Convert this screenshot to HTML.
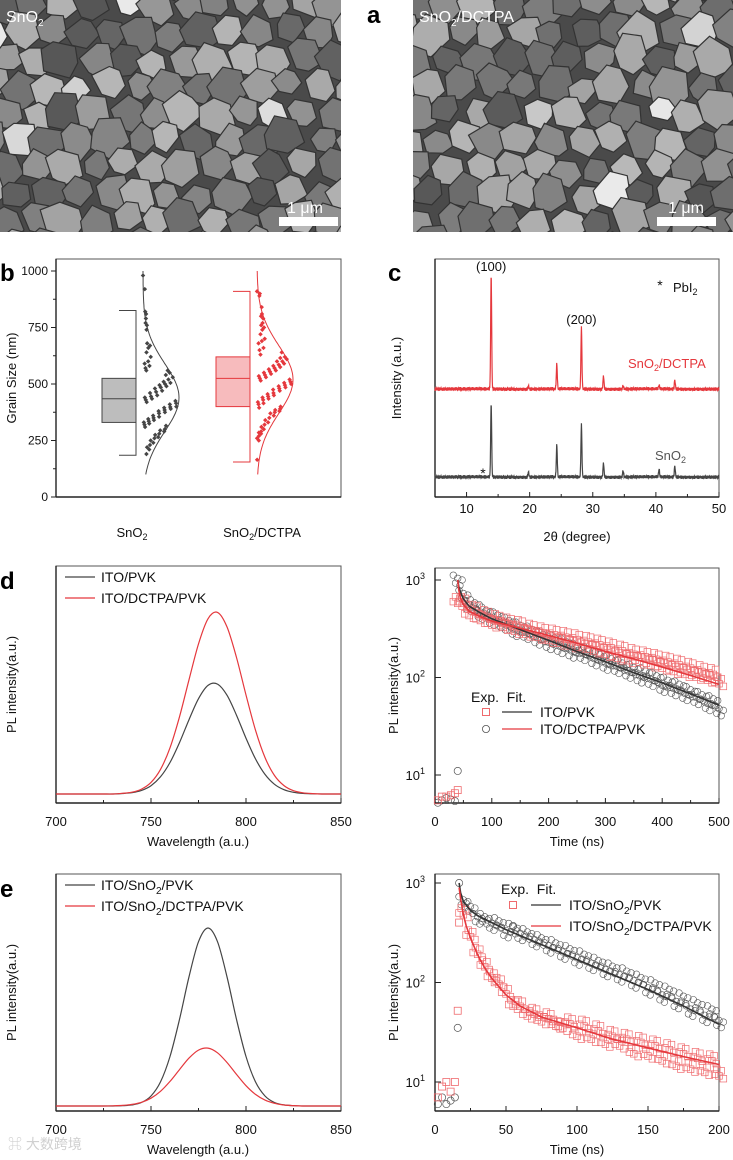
<!DOCTYPE html>
<html><head><meta charset="utf-8"><style>
html,body{margin:0;padding:0;background:#fff;}
svg{display:block;font-family:"Liberation Sans",Arial,sans-serif;}
</style></head><body>
<svg id="fig" width="733" height="1160" viewBox="0 0 733 1160" xmlns="http://www.w3.org/2000/svg">
<g id="semL"></g>
<g id="semR"></g>
<g id="plots"></g>
</svg>
<script>
// ---------- DATA ----------
// panel b
const bCategories = ["SnO2", "SnO2/DCTPA"];
const bQ1 = [330, 400];
const bMedian = [435, 525];
const bQ3 = [525, 620];
const bWhiskLo = [185, 155];
const bWhiskHi = [825, 910];
const bMean = [440, 520];
const bSd = [150, 150];
const bPointsSnO2 = [980,920,820,810,790,770,760,740,680,670,660,640,620,600,590,580,570,560,560,550,540,530,520,510,505,500,495,490,485,480,470,465,460,450,445,440,435,430,425,420,415,410,400,398,395,390,385,380,375,370,360,355,350,345,340,335,330,325,320,315,310,300,295,290,280,275,265,260,250,240,230,220,210,190];
const bPointsDCTPA = [910,900,890,840,810,800,790,770,760,750,740,720,700,690,680,660,650,640,630,620,615,610,600,600,590,585,580,575,570,565,560,555,550,545,540,535,530,525,520,515,510,505,500,495,490,485,480,475,470,460,455,450,445,440,435,430,420,415,410,400,395,390,385,380,375,370,360,350,340,330,320,310,300,290,285,280,270,260,250,165];
const bTicks = [0, 250, 500, 750, 1000];
// panel c (XRD)
const cPeakPos = [13.9, 19.8, 24.3, 28.2, 31.7, 34.8, 40.5, 43.0];
const cPeakRed = [115, 3, 25, 61, 13, 3, 4, 9];
const cPeakBlack = [74, 5, 32, 52, 14, 6, 8, 11];
const cOffsets = [108, 20];
const cTicks = [10, 20, 30, 40, 50];
// panel d left
const dWave = [700,705,710,715,720,725,730,735,740,745,750,755,760,765,770,775,780,785,790,795,800,805,810,815,820,825,830,835,840,845,850];
const dBlack = [0,0,0,0,0,0,0,0.5,1.4,3.6,8.3,17.2,31.5,51.4,74.3,95.3,108.6,109.9,98.8,78.8,55.8,35.1,19.6,9.7,4.3,1.7,0.6,0.2,0,0,0];
const dRed = [0,0,0,0,0,0,0,0.7,1.8,4.9,11.6,24.6,46.2,77.2,114.2,150.1,175.2,181.6,167.1,136.5,99.0,63.8,36.5,18.5,8.4,3.3,1.2,0.4,0,0,0];
const dxTicks = [700, 750, 800, 850];
// panel d right (TRPL)
const dFitT = [40,42,45,50,60,80,100,150,200,250,300,350,400,450,500];
const dFitBlack = [1000,850,750,640,540,460,400,310,240,185,145,112,88,68,52];
const dFitRed = [1000,780,650,560,480,420,380,320,270,225,185,155,128,105,85];
const dExpT = [40,50,60,70,80,90,100,110,120,130,140,150,160,170,180,190,200,210,220,230,240,250,260,270,280,290,300,310,320,330,340,350,360,370,380,390,400,410,420,430,440,450,460,470,480,490,500];
const dExpBlack = [1000,700,540,560,450,470,390,420,350,370,300,330,280,300,245,265,220,245,200,225,180,200,170,185,150,165,135,150,125,135,112,122,100,112,92,100,80,90,74,82,66,72,60,64,52,58,46];
const dExpRed = [600,600,450,500,400,440,360,400,340,370,310,350,290,320,270,300,250,285,235,270,220,255,205,240,195,225,180,210,165,195,155,180,150,170,140,160,130,150,120,140,112,130,105,120,98,112,90];
const dPreT = [5,12,20,28,35,40];
const dPreBlack = [5.2,5.5,5.8,5.6,5.4,11];
const dPreRed = [5.5,6,6,6.2,6.5,7];
const dTTicks = [0,100,200,300,400,500];
// panel e left
const eWave = [700,705,710,715,720,725,730,735,740,745,750,755,760,765,770,775,780,785,790,795,800,805,810,815,820,825,830,835,840,845,850];
const eBlack = [0,0,0,0,0,0,0,0.3,1.1,3.5,10.0,24.1,49.5,86.6,129.2,164.3,178,164.3,129.2,86.6,49.5,24.1,10.0,3.5,1.1,0.3,0,0,0,0,0];
const eRed = [0,0,0,0,0,0,0.2,0.6,1.6,3.7,7.8,14.7,24.6,36.4,47.9,55.9,57.9,53.2,43.5,31.6,20.3,11.6,5.9,2.7,1.0,0.4,0,0,0,0,0];
// panel e right
const eFitT = [17,18,20,25,30,40,50,75,100,125,150,175,200];
const eFitBlack = [1000,800,650,530,470,400,340,240,170,120,85,58,38];
const eFitRT = [17,18,20,22,25,30,35,40,50,60,75,100,125,150,175,200];
const eFitRed = [900,700,480,370,280,190,140,110,75,58,45,35,27,22,18,15];
const eExpT = [20,25,30,35,40,45,50,55,60,65,70,75,80,85,90,95,100,105,110,115,120,125,130,135,140,145,150,155,160,165,170,175,180,185,190,195,200];
const eExpBlack = [650,560,440,440,380,400,320,350,300,310,260,270,225,240,195,210,170,185,150,160,130,140,115,125,100,108,85,95,72,82,62,70,52,60,45,52,40];
const eExpRed = [500,300,200,150,115,100,80,60,60,48,50,42,45,38,36,40,30,38,28,34,25,30,24,28,20,26,19,24,17,22,15,20,14,18,13,17,12];
const ePreT = [2,5,8,11,14,16,17];
const ePreBlack = [6,7,6,6.5,7,35,1000];
const ePreRed = [7,9,10,8,10,52,400];
const eTTicks = [0,50,100,150,200];

// ---------- helpers ----------
const NS = "http://www.w3.org/2000/svg";
const root = document.getElementById('plots');
function mk(tag, attrs, parent) {
  const e = document.createElementNS(NS, tag);
  for (const k in attrs) e.setAttribute(k, attrs[k]);
  (parent || root).appendChild(e);
  return e;
}
function txt(x, y, s, size, anchor, parent, weight, fill) {
  const t = mk('text', {x: x, y: y, 'font-size': size, 'text-anchor': anchor || 'middle', fill: fill || '#111', 'font-weight': weight || 'normal'}, parent);
  t.innerHTML = s;
  return t;
}
const RED = '#e5383d', BLK = '#454545';

// ---------- SEM images (decorative texture) ----------
function sem(g, x0, w, seed) {
  let s = seed;
  function rnd() { s = (s * 1103515245 + 12345) % 2147483648; return s / 2147483648; }
  mk('rect', {x: x0, y: 0, width: w, height: 232, fill: '#4a4a4a'}, g);
  const cell = 30;
  for (let gy = -1; gy < 10; gy++) for (let gx = -1; gx < Math.ceil(w / cell) + 1; gx++) {
    const cx = x0 + gx * cell + (gy % 2) * 15 + rnd() * 10;
    const cy = gy * 27 + rnd() * 10;
    const r = 14 + rnd() * 7;
    const pts = [];
    for (let k = 0; k < 6; k++) {
      const a = k * Math.PI / 3 + rnd() * 0.5;
      const rr = r * (0.85 + rnd() * 0.3);
      pts.push((cx + rr * Math.cos(a)).toFixed(1) + ',' + (cy + rr * Math.sin(a)).toFixed(1));
    }
    const gv = Math.floor(85 + rnd() * 100 + (rnd() > 0.9 ? 50 : 0));
    mk('polygon', {points: pts.join(' '), fill: `rgb(${gv},${gv},${gv})`, stroke: '#333', 'stroke-width': 1.2}, g);
  }
}
const semL = document.getElementById('semL'), semR = document.getElementById('semR');
const clipDefs = mk('defs', {}, document.getElementById('fig'));
const c1 = mk('clipPath', {id: 'clipL'}, clipDefs); mk('rect', {x: 0, y: 0, width: 341, height: 232}, c1);
const c2 = mk('clipPath', {id: 'clipR'}, clipDefs); mk('rect', {x: 413, y: 0, width: 320, height: 232}, c2);
semL.setAttribute('clip-path', 'url(#clipL)');
semR.setAttribute('clip-path', 'url(#clipR)');
sem(semL, 0, 341, 7);
sem(semR, 413, 320, 91);
txt(6, 22, 'SnO<tspan font-size="10" dy="4">2</tspan>', 16, 'start', semL, 'normal', '#fff');
txt(419, 22, 'SnO<tspan font-size="10" dy="4">2</tspan><tspan dy="-4">/DCTPA</tspan>', 16, 'start', semR, 'normal', '#fff');
let sb = mk('rect', {x: 279, y: 217, width: 59, height: 9, fill: '#fff'});


txt(305, 213, '1 μm', 16, 'middle', null, 'normal', '#fff');
sb = mk('rect', {x: 657, y: 217, width: 59, height: 9, fill: '#fff'});


txt(686, 213, '1 μm', 16, 'middle', null, 'normal', '#fff');
let lt = txt(367, 23, 'a', 24, 'start', null, 'bold', '#000');



// ---------- generic frame ----------
function frame(x0, y0, x1, y1, name) {
  const g = mk('g', {});
  
  
  mk('rect', {x: x0, y: y0, width: x1 - x0, height: y1 - y0, fill: 'none', stroke: '#555', 'stroke-width': 1}, g);
  mk('line', {x1: x0, y1: y1, x2: x1, y2: y1, stroke: '#222', 'stroke-width': 1.4}, g);
  mk('line', {x1: x0, y1: y0, x2: x0, y2: y1, stroke: '#222', 'stroke-width': 1.4}, g);
  return g;
}
function pathFrom(xs, ys, fx, fy) {
  let d = '';
  for (let i = 0; i < xs.length; i++) d += (i ? 'L' : 'M') + fx(xs[i]).toFixed(2) + ',' + fy(ys[i]).toFixed(2);
  return d;
}
function smoothPath(xs, ys, fx, fy) {
  const P = xs.map((x, i) => [fx(x), fy(ys[i])]);
  let d = 'M' + P[0][0] + ',' + P[0][1];
  for (let i = 0; i < P.length - 1; i++) {
    const p0 = P[Math.max(0, i - 1)], p1 = P[i], p2 = P[i + 1], p3 = P[Math.min(P.length - 1, i + 2)];
    const c1x = p1[0] + (p2[0] - p0[0]) / 6, c1y = p1[1] + (p2[1] - p0[1]) / 6;
    const c2x = p2[0] - (p3[0] - p1[0]) / 6, c2y = p2[1] - (p3[1] - p1[1]) / 6;
    d += `C${c1x.toFixed(2)},${c1y.toFixed(2)} ${c2x.toFixed(2)},${c2y.toFixed(2)} ${p2[0].toFixed(2)},${p2[1].toFixed(2)}`;
  }
  return d;
}

// ---------- panel b ----------
const yB = v => 497 - v * 0.226;
const gb = frame(56, 259, 341, 497, 'grain-size-plot');
lt = txt(0, 281, 'b', 24, 'start', null, 'bold', '#000');


bTicks.forEach(v => {
  mk('line', {x1: 56, y1: yB(v), x2: 51, y2: yB(v), stroke: '#222'}, gb);
  txt(48, yB(v) + 4, v, 12, 'end', gb);
  if (v < 1000) mk('line', {x1: 56, y1: yB(v + 125), x2: 53, y2: yB(v + 125), stroke: '#222'}, gb);
});
let yl = txt(0, 0, 'Grain Size (nm)', 13, 'middle', gb);
yl.setAttribute('transform', 'translate(16,378) rotate(-90)');


const bBoxLeft = [102, 216], bBoxRight = [136, 250];
const bCol = [BLK, RED], bFill = ['#bdbdbd', '#f7bbbd'];
const bPts = [bPointsSnO2, bPointsDCTPA];
bCategories.forEach((c, i) => {
  const g = mk('g', {});
  
  
  const L = bBoxLeft[i], R = bBoxRight[i];
  mk('rect', {x: L, y: yB(bQ3[i]), width: R - L, height: yB(bQ1[i]) - yB(bQ3[i]), fill: bFill[i], stroke: bCol[i]}, g);
  mk('line', {x1: L, y1: yB(bMedian[i]), x2: R, y2: yB(bMedian[i]), stroke: bCol[i]}, g);
  mk('path', {d: `M${L + 17},${yB(bWhiskHi[i])}H${R}V${yB(bWhiskLo[i])}H${L + 17}`, fill: 'none', stroke: bCol[i]}, g);
  const base = R + 7;
  const cv = [];
  for (let v = 100; v <= 1000; v += 10) cv.push([base + 36 * Math.exp(-Math.pow((v - bMean[i]) / bSd[i], 2) / 2), yB(v)]);
  mk('path', {d: 'M' + cv.map(p => p[0].toFixed(1) + ',' + p[1].toFixed(1)).join('L'), fill: 'none', stroke: bCol[i], 'stroke-width': 1}, g);
  bPts[i].forEach((v, k) => {
    const maxw = 34 * Math.exp(-Math.pow((v - bMean[i]) / bSd[i], 2) / 2) + 2;
    const jx = (k * 0.618034 + (k % 3) * 0.21) % 1;
    const p = mk('rect', {x: base + jx * maxw - 1.6, y: yB(v) - 1.6, width: 3.2, height: 3.2, fill: bCol[i], transform: `rotate(45 ${base + jx * maxw} ${yB(v)})`}, g);
    
    
  });
});
txt(132, 537, 'SnO<tspan font-size="9" dy="3">2</tspan>', 13, 'middle', gb);
txt(262, 537, 'SnO<tspan font-size="9" dy="3">2</tspan><tspan dy="-3">/DCTPA</tspan>', 13, 'middle', gb);

// ---------- panel c ----------
const xC = t => 435 + (t - 5) * 6.311;
const yC = v => 497 - v;
const gc = frame(435, 259, 719, 497, 'xrd-plot');
lt = txt(388, 281, 'c', 24, 'start', null, 'bold', '#000');


cTicks.forEach(t => {
  mk('line', {x1: xC(t), y1: 497, x2: xC(t), y2: 492, stroke: '#222'}, gc);
  txt(xC(t), 513, t, 13, 'middle', gc);
});
for (let t = 5; t <= 50; t += 5) if (t % 10) mk('line', {x1: xC(t), y1: 497, x2: xC(t), y2: 494, stroke: '#222'}, gc);
txt(577, 541, '2θ (degree)', 13, 'middle', gc);
yl = txt(0, 0, 'Intensity (a.u.)', 13, 'middle', gc);
yl.setAttribute('transform', 'translate(401,378) rotate(-90)');
[[cPeakRed, RED, 'xrd-sno2-dctpa', 0], [cPeakBlack, BLK, 'xrd-sno2', 1]].forEach(([pk, col, nm, idx]) => {
  let d = '';
  for (let t = 5; t <= 50.001; t += 0.04) {
    let v = cOffsets[idx] + 2 * Math.sin(t * 97.1) * Math.cos(t * 23.3);
    cPeakPos.forEach((p, j) => { v += pk[j] * Math.exp(-Math.pow((t - p) / 0.11, 2)); });
    d += (d ? 'L' : 'M') + xC(t).toFixed(2) + ',' + yC(v).toFixed(2);
  }
  const p = mk('path', {d: d, fill: 'none', stroke: col, 'stroke-width': 1.2});
  
  
});
txt(xC(13.9), yC(cOffsets[0] + cPeakRed[0]) - 3, '(100)', 13, 'middle', gc);
txt(xC(28.2), yC(cOffsets[0] + cPeakRed[3]) - 4, '(200)', 13, 'middle', gc);
txt(xC(12.6), yC(cOffsets[1]) + 1, '*', 14, 'middle', gc);
txt(660, 290, '*', 14, 'middle', gc);
txt(673, 292, 'PbI<tspan font-size="9" dy="3">2</tspan>', 13, 'start', gc);
txt(628, 368, 'SnO<tspan font-size="9" dy="3">2</tspan><tspan dy="-3">/DCTPA</tspan>', 13, 'start', gc, 'normal', RED);
txt(655, 460, 'SnO<tspan font-size="9" dy="3">2</tspan>', 13, 'start', gc, 'normal', '#555');

// ---------- panel d left / e left ----------
function plSpectrum(y0, y1, base, wave, blk, red, name, lab, labels) {
  const xS = w => 56 + (w - 700) * 1.9;
  const yS = v => base - v;
  const g = frame(56, y0, 341, y1, name);
  lt = txt(0, y0 + 23, lab, 24, 'start', null, 'bold', '#000');
  
  
  dxTicks.forEach(w => {
    mk('line', {x1: xS(w), y1: y1, x2: xS(w), y2: y1 - 5, stroke: '#222'}, g);
    txt(xS(w), y1 + 23, w, 13, 'middle', g);
  });
  [725, 775, 825].forEach(w => mk('line', {x1: xS(w), y1: y1, x2: xS(w), y2: y1 - 3, stroke: '#222'}, g));
  txt(198, y1 + 43, 'Wavelength (a.u.)', 13, 'middle', g);
  const t = txt(0, 0, 'PL intensity(a.u.)', 13, 'middle', g);
  t.setAttribute('transform', `translate(16,${(y0 + y1) / 2}) rotate(-90)`);
  let p = mk('path', {d: smoothPath(wave, blk, xS, yS), fill: 'none', stroke: BLK, 'stroke-width': 1.2});
  
  
  p = mk('path', {d: smoothPath(wave, red, xS, yS), fill: 'none', stroke: RED, 'stroke-width': 1.2});
  
  
  mk('line', {x1: 65, y1: y0 + 11, x2: 95, y2: y0 + 11, stroke: BLK, 'stroke-width': 1.2}, g);
  mk('line', {x1: 65, y1: y0 + 32, x2: 95, y2: y0 + 32, stroke: RED, 'stroke-width': 1.2}, g);
  txt(101, y0 + 16, labels[0], 14, 'start', g);
  txt(101, y0 + 37, labels[1], 14, 'start', g);
}
plSpectrum(566, 803, 794, dWave, dBlack, dRed, 'pl-spectrum-d', 'd', ['ITO/PVK', 'ITO/DCTPA/PVK']);
plSpectrum(874, 1111, 1106, eWave, eBlack, eRed, 'pl-spectrum-e', 'e',
  ['ITO/SnO<tspan font-size="10" dy="4">2</tspan><tspan dy="-4">/PVK</tspan>', 'ITO/SnO<tspan font-size="10" dy="4">2</tspan><tspan dy="-4">/DCTPA/PVK</tspan>']);

// ---------- TRPL panels ----------
function trpl(o) {
  const xS = t => 435 + t * (284 / o.tmax);
  const yS = v => o.y3 - (Math.log10(v) - 3) * o.dec;
  const g = frame(435, o.y0, 719, o.y1, o.name);
  o.ticks.forEach((t, i) => {
    mk('line', {x1: xS(t), y1: o.y1, x2: xS(t), y2: o.y1 - 5, stroke: '#222'}, g);
    txt(xS(t), o.y1 + 23, t, 13, 'middle', g);
    if (i < o.ticks.length - 1) mk('line', {x1: xS(t + o.ticks[1] / 2), y1: o.y1, x2: xS(t + o.ticks[1] / 2), y2: o.y1 - 3, stroke: '#222'}, g);
  });
  [1, 2, 3].forEach(e => {
    mk('line', {x1: 435, y1: yS(Math.pow(10, e)), x2: 441, y2: yS(Math.pow(10, e)), stroke: '#222'}, g);
    txt(425, yS(Math.pow(10, e)) + 5, '10<tspan font-size="9" dy="-6">' + e + '</tspan>', 13, 'end', g);
  });
  txt(577, o.y1 + 43, 'Time (ns)', 13, 'middle', g);
  const t = txt(0, 0, 'PL intensity(a.u.)', 13, 'middle', g);
  t.setAttribute('transform', `translate(398,${(o.y0 + o.y1) / 2}) rotate(-90)`);
  const cg = mk('g', {});
  
  
  const rg = mk('g', {});
  
  
  const offs = [[-4, 1.12, 0.9], [-2, 0.93, 1.08], [0, 1.04, 0.96], [2, 0.88, 1.12], [4, 1.0, 1.0]];
  o.expT.forEach((tt, i) => {
    offs.forEach(([dx, fb, fr]) => {
      const vb = o.expBlack[i] * fb, vr = o.expRed[i] * fr;
      mk('circle', {cx: xS(tt) + dx * 1.1, cy: yS(vb), r: 3.3, fill: 'none', stroke: '#555', 'stroke-width': 0.6}, cg);
      mk('rect', {x: xS(tt) - dx * 1.1 - 3.3, y: yS(vr) - 3.3, width: 6.6, height: 6.6, fill: 'none', stroke: '#ef6a6d', 'stroke-width': 0.7}, rg);
    });
  });
  o.preT.forEach((tt, i) => {
    if (o.preBlack[i] > 5) mk('circle', {cx: xS(tt), cy: yS(o.preBlack[i]), r: 3.6, fill: 'none', stroke: '#555', 'stroke-width': 0.7}, cg);
    if (o.preRed[i] > 5) mk('rect', {x: xS(tt) - 3.5, y: yS(o.preRed[i]) - 3.5, width: 7, height: 7, fill: 'none', stroke: '#ef6a6d', 'stroke-width': 0.8}, rg);
  });
  let p = mk('path', {d: pathFrom(o.fitT, o.fitBlack, xS, yS), fill: 'none', stroke: '#333', 'stroke-width': 1.6});
  
  
  p = mk('path', {d: pathFrom(o.fitRT, o.fitRed, xS, yS), fill: 'none', stroke: RED, 'stroke-width': 1.6});
  
  
  const L = o.leg;
  const lg = mk('g', {});
  
  
  txt(L.hx, L.hy, 'Exp.&#160;&#160;Fit.', 14, 'start', lg);
  mk('rect', {x: L.x - 3.5, y: L.y1 - 3.5, width: 7, height: 7, fill: 'none', stroke: '#ef6a6d'}, lg);
  mk('circle', {cx: L.x, cy: L.y2, r: 3.6, fill: 'none', stroke: '#555', 'stroke-width': 0.8}, lg);
  mk('line', {x1: L.lx, y1: L.y1, x2: L.lx + 30, y2: L.y1, stroke: '#333', 'stroke-width': 1.2}, lg);
  mk('line', {x1: L.lx, y1: L.y2, x2: L.lx + 30, y2: L.y2, stroke: RED, 'stroke-width': 1.2}, lg);
  txt(L.lx + 38, L.y1 + 5, L.l1, 14, 'start', lg);
  txt(L.lx + 38, L.y2 + 5, L.l2, 14, 'start', lg);
}
trpl({name: 'trpl-d', y0: 568, y1: 803, y3: 580, dec: 97.5, tmax: 500, ticks: dTTicks,
  expT: dExpT, expBlack: dExpBlack, expRed: dExpRed, fitT: dFitT, fitBlack: dFitBlack, fitRT: dFitT, fitRed: dFitRed,
  preT: dPreT, preBlack: dPreBlack, preRed: dPreRed,
  leg: {x: 486, hx: 471, hy: 702, lx: 502, y1: 712, y2: 729, l1: 'ITO/PVK', l2: 'ITO/DCTPA/PVK'}});
trpl({name: 'trpl-e', y0: 874, y1: 1111, y3: 883, dec: 99.5, tmax: 200, ticks: eTTicks,
  expT: eExpT, expBlack: eExpBlack, expRed: eExpRed, fitT: eFitT, fitBlack: eFitBlack, fitRT: eFitRT, fitRed: eFitRed,
  preT: ePreT, preBlack: ePreBlack, preRed: ePreRed,
  leg: {x: 513, hx: 501, hy: 894, lx: 531, y1: 905, y2: 926,
    l1: 'ITO/SnO<tspan font-size="10" dy="4">2</tspan><tspan dy="-4">/PVK</tspan>',
    l2: 'ITO/SnO<tspan font-size="10" dy="4">2</tspan><tspan dy="-4">/DCTPA/PVK</tspan>'}});

// watermark
const wm = txt(8, 1149, '⌘ 大数跨境', 14, 'start', null, 'normal', '#d0d0d0');
wm.setAttribute('font-family', '"Liberation Sans","Noto Sans CJK SC",sans-serif');


</script>
</body></html>
